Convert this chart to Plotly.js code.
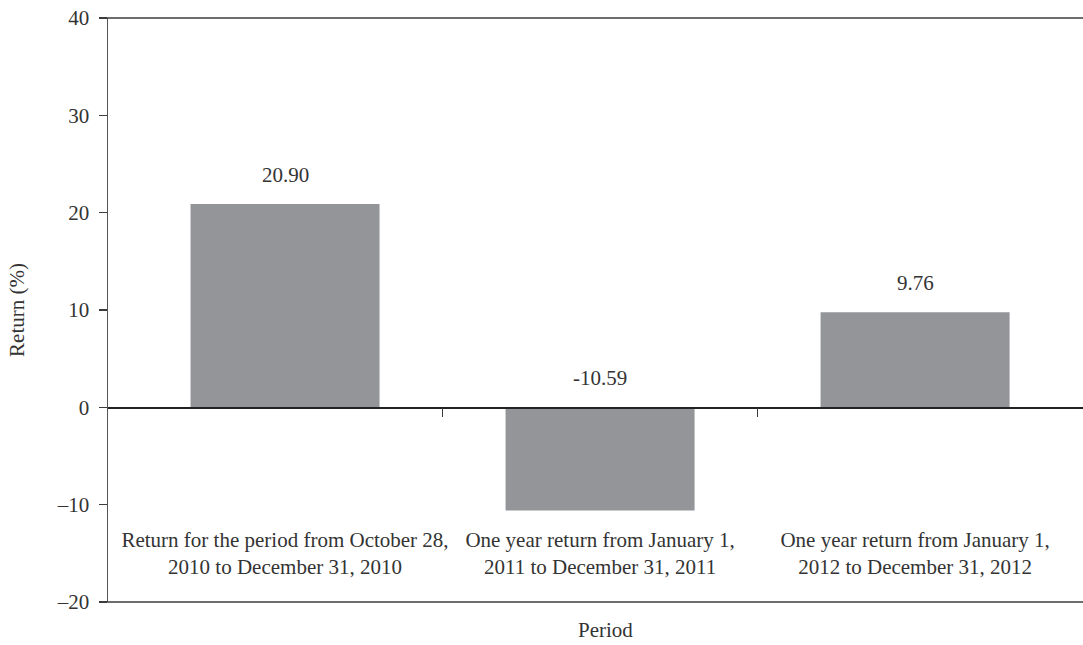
<!DOCTYPE html>
<html>
<head>
<meta charset="utf-8">
<script src="https://cdn.plot.ly/plotly-3.0.1.min.js"></script>
<style>html,body{margin:0;padding:0;background:#fff;}#chart{width:1083px;height:645px;}</style>
</head>
<body>
<div id="chart"></div>
<script>
const categories = [
  "Return for the period from October 28,<br>2010 to December 31, 2010",
  "One year return from January 1,<br>2011 to December 31, 2011",
  "One year return from January 1,<br>2012 to December 31, 2012"
];
const returns = [20.90, -10.59, 9.76];
const yTickVals = [-20, -10, 0, 10, 20, 30, 40];
const yTickText = ["\u201320", "\u201310", "0", "10", "20", "30", "40"];
const boundaryTicks = [0.5, 1.5];

const FONT = "Times New Roman";
const TXT = "#333333";
const LINE = "#3c3c3c";

const traces = [
  {
    type: "bar",
    x: categories,
    y: returns,
    width: 0.6,
    marker: {color: "#939598"},
    hoverinfo: "skip"
  },
  {
    type: "scatter",
    mode: "markers",
    x: [],
    y: [],
    xaxis: "x2",
    yaxis: "y",
    showlegend: false
  }
];

const annotations = categories.map((c, i) => ({
  x: c, y: Math.max(returns[i], 0), xref: "x", yref: "y",
  text: returns[i].toFixed(2), showarrow: false,
  yanchor: "middle", yshift: 29,
  font: {family: FONT, size: 21, color: TXT}
}));
annotations.push({
  x: 0.51, y: -0.048, xref: "paper", yref: "paper",
  text: "Period", showarrow: false, yanchor: "middle",
  font: {family: FONT, size: 21, color: TXT}
});

const layout = {
  width: 1083, height: 645,
  margin: {l: 108, r: 0, t: 18, b: 43},
  paper_bgcolor: "#fff", plot_bgcolor: "#fff",
  showlegend: false,
  font: {family: FONT, size: 21, color: TXT},
  xaxis: {
    type: "category",
    range: [-0.562, 2.533],
    anchor: "free", position: 1/3,
    showline: true, linecolor: "#222", linewidth: 1.5,
    ticks: "", showgrid: false, zeroline: false,
    ticklabelstandoff: 113,
    tickfont: {family: FONT, size: 21, color: TXT}
  },
  xaxis2: {
    overlaying: "x",
    range: [-0.562, 2.533],
    anchor: "free", position: 1/3,
    showline: false, showgrid: false, zeroline: false,
    tickmode: "array", tickvals: boundaryTicks,
    ticks: "outside", ticklen: 9, tickwidth: 1.2, tickcolor: LINE,
    showticklabels: false
  },
  yaxis: {
    range: [-20, 40],
    tickmode: "array", tickvals: yTickVals, ticktext: yTickText,
    ticks: "outside", ticklen: 8, tickwidth: 1.5, tickcolor: LINE,
    showline: true, linecolor: "#555", linewidth: 1.5,
    showgrid: false, zeroline: false,
    ticklabelstandoff: 5,
    tickfont: {family: FONT, size: 21, color: TXT},
    title: {text: "Return (%)", standoff: 26, font: {family: FONT, size: 21, color: TXT}}
  },
  shapes: [
    {type: "line", xref: "paper", yref: "paper", x0: -8/975, x1: 1, y0: 1, y1: 1,
     line: {color: LINE, width: 1.5}},
    {type: "line", xref: "paper", yref: "paper", x0: -8/975, x1: 1, y0: 0, y1: 0,
     line: {color: LINE, width: 1.5}}
  ],
  annotations: annotations
};

Plotly.newPlot("chart", traces, layout, {displayModeBar: false, staticPlot: true});
</script>
</body>
</html>
